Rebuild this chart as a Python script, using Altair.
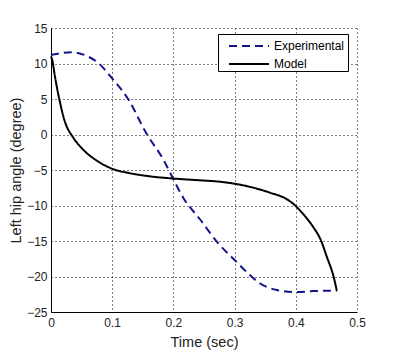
import altair as alt
import pandas as pd

# Experimental (dashed navy)
t_exp = [0, 0.006, 0.033, 0.06, 0.077, 0.099, 0.126, 0.156, 0.184, 0.2, 0.216, 0.243,
         0.276, 0.298, 0.32, 0.342, 0.369, 0.401, 0.429, 0.467]
y_exp = [11.2, 11.3, 11.6, 11.0, 10.1, 8.0, 5.0, 0.13, -3.6, -6.3, -8.9, -11.9,
         -15.6, -17.5, -19.4, -21.0, -21.9, -22.2, -22.05, -22.0]

# Model (solid black)
t_mod = [0, 0.002, 0.006, 0.014, 0.022, 0.036, 0.05, 0.077, 0.104, 0.126, 0.162, 0.2,
         0.243, 0.276, 0.331, 0.358, 0.385, 0.399, 0.412, 0.429, 0.44, 0.451, 0.462, 0.467]
y_mod = [11.0, 10.5, 8.4, 4.8, 2.0, -0.4, -1.9, -3.8, -4.95, -5.4, -5.9, -6.2,
         -6.45, -6.65, -7.5, -8.2, -9.1, -10.0, -11.2, -13.1, -14.7, -17.3, -20.1, -22.0]

series = ["Experimental", "Model"]
colors = ["#14148a", "#000000"]
dashes = [[8, 5], [1, 0]]

rows = []
for i, (t, y) in enumerate(zip(t_exp, y_exp)):
    rows.append({"t": t, "y": y, "s": series[0], "o": i})
for i, (t, y) in enumerate(zip(t_mod, y_mod)):
    rows.append({"t": t, "y": y, "s": series[1], "o": i})
df = pd.DataFrame(rows)

font = "Liberation Sans"

chart = alt.Chart(df).mark_line(strokeWidth=2, interpolate="monotone").encode(
    x=alt.X("t:Q", scale=alt.Scale(domain=[0, 0.5], nice=False),
            axis=alt.Axis(title="Time (sec)", values=[0, 0.1, 0.2, 0.3, 0.4, 0.5],
                          format=".1~f", labelFlush=False,
                          labelExpr="datum.value == 0 ? '0' : datum.label")),
    y=alt.Y("y:Q", scale=alt.Scale(domain=[-25, 15], nice=False),
            axis=alt.Axis(title="Left hip angle (degree)", labelFlush=False,
                          values=[-25, -20, -15, -10, -5, 0, 5, 10, 15])),
    color=alt.Color("s:N", scale=alt.Scale(domain=series, range=colors),
                    legend=alt.Legend(title=" ", titleOrient="right", titlePadding=3,
                                      titleFontSize=12, titleFont=font,
                                      orient="none", legendX=167, legendY=6,
                                      strokeColor="black", fillColor="white",
                                      padding=1, symbolType="M-2,0H2", symbolSize=400,
                                      symbolOffset=19, symbolStrokeWidth=2,
                                      labelFont=font, labelFontSize=12,
                                      labelColor="#000", rowPadding=1, labelOffset=14)),
    strokeDash=alt.StrokeDash("s:N", scale=alt.Scale(domain=series, range=dashes), legend=None),
    order="o:Q",
).properties(
    width=306, height=284,
    padding={"left": 43, "top": 20, "right": 28, "bottom": 42},
    autosize=alt.AutoSizeParams(type="none"),
).configure_view(stroke=None).configure_axis(
    grid=True, gridColor="#000", gridDash=[1, 3], gridOpacity=1, gridWidth=1,
    domainColor="#000", domainWidth=1, ticks=False,
    labelFont=font, labelFontSize=12, labelColor="#222",
    titleFont=font, titleFontSize=14.5, titleFontWeight="normal", titleColor="#222",
).configure_axisX(labelPadding=5, titlePadding=7).configure_axisY(labelPadding=4, titlePadding=3)

chart.save("out.html", embed_options={"renderer": "svg", "actions": False})
